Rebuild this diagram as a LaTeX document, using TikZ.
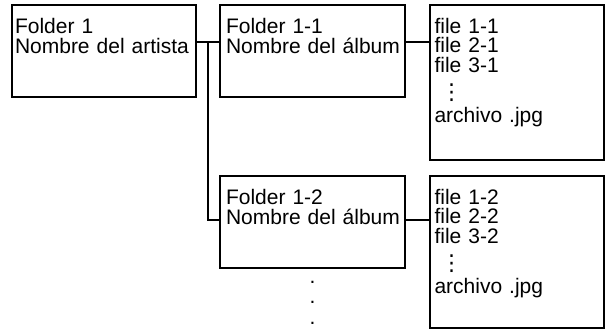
\documentclass[tikz,border=0pt]{standalone}
\usepackage{fontspec}
\setmainfont{Liberation Sans}
\newfontfamily\symfont{DejaVu Sans}
\usepackage{tikz}
\usetikzlibrary{
  positioning,
  calc
}
\newcommand{\listdots}{{\symfont\fontsize{22}{22}\selectfont ⋮}}
\newcommand{\moredots}{\vbox{\baselineskip20.5pt\lineskiplimit-30pt\hbox{.}\hbox{.}\hbox{.}}}
\tikzset{
  folderbox/.style={
    draw,
    line width=1.2pt,
    outer sep=0pt,
    inner ysep=3pt,
    align=left,
    text height=25pt,
    font=\fontsize{21}{20}\selectfont
  },
  artist/.style={
    folderbox,
    inner xsep=3pt,
    text width=178pt,
    text depth=61pt
  },
  album/.style={
    folderbox,
    inner xsep=6pt,
    text width=173pt,
    text depth=61pt
  },
  filelist/.style={
    folderbox,
    inner xsep=4.5pt,
    text width=165pt,
    text depth=124pt,
    font=\fontsize{21}{19.5}\selectfont
  },
  dotcol/.style={
    inner sep=0pt,
    font=\fontsize{21}{22}\selectfont
  },
  link/.style={
    line width=2pt
  }
}

\begin{document}
\begin{tikzpicture}

  \useasboundingbox (0,0) rectangle (605pt,-330pt);

  \node[
    artist,
    anchor=north west
  ] (artist) at (12pt,-5pt) {
    Folder 1\\
    Nombre del artista
  };

  \node[
    album,
    right=24pt of artist
  ] (album11) {
    Folder 1-1\\
    \mbox{Nombre del álbum}
  };

  \node[
    filelist,
    right=25pt of album11.north east,
    anchor=north west
  ] (files1) {
    file 1-1\\
    file 2-1\\
    file 3-1\\[8pt]
    \hspace*{6pt}\listdots\\[3pt]
    archivo .jpg
  };

  \node[
    album,
    below=79pt of album11
  ] (album12) {
    Folder 1-2\\
    \mbox{Nombre del álbum}
  };

  \node[
    filelist,
    text depth=121pt,
    below=16pt of files1
  ] (files2) {
    file 1-2\\
    file 2-2\\
    file 3-2\\[8pt]
    \hspace*{6pt}\listdots\\[3pt]
    archivo .jpg
  };

  \node[
    dotcol,
    below=13pt of album12
  ] (more) {\moredots};

  \coordinate (branch) at ($(artist.north east)+(12pt,-37pt)$);

  \draw[link]
  ([yshift=-37pt]artist.north east) --
  ([yshift=-37pt]album11.north west);

  \draw[link]
  (branch) |-
  ([yshift=-44pt]album12.north west);

  \draw[link]
  ([yshift=-37pt]album11.north east) --
  ([yshift=-37pt]files1.north west);

  \draw[link]
  ([yshift=-44pt]album12.north east) --
  ([yshift=-44pt]files2.north west);

\end{tikzpicture}
\end{document}
